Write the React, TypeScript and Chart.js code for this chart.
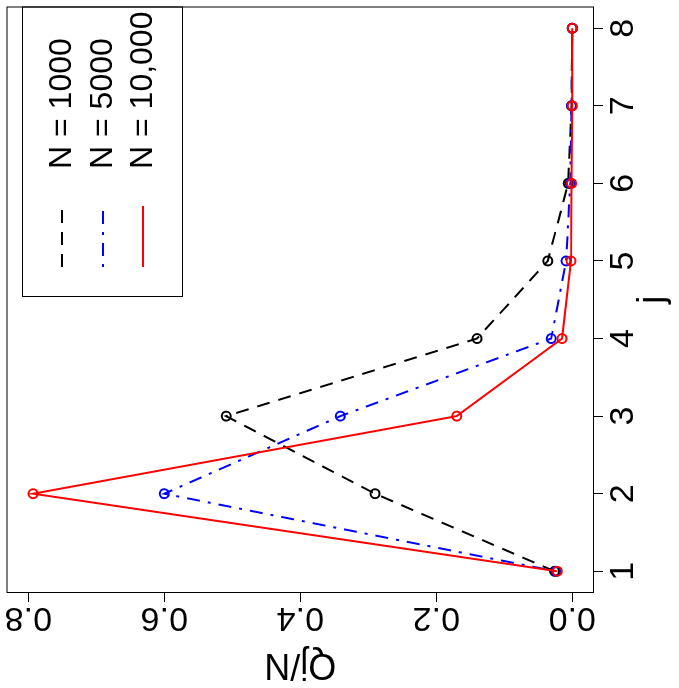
import React, { useEffect, useRef } from "react";
import { Chart, registerables } from "chart.js";

Chart.register(...registerables);

const jValues = [1, 2, 3, 4, 5, 6, 7, 8];
const seriesLabels = ["N = 1000", "N = 5000", "N = 10,000"];
const qN1000 = [0.026, 0.29, 0.509, 0.14, 0.036, 0.006, 0.001, 0.0];
const qN5000 = [0.024, 0.6, 0.341, 0.031, 0.009, 0.003, 0.001, 0.0];
const qN10000 = [0.022, 0.793, 0.17, 0.015, 0.002, 0.001, 0.0, 0.0];
const xTicks = [1, 2, 3, 4, 5, 6, 7, 8];
const yTicks = [0, 0.2, 0.4, 0.6, 0.8];

const FONT = "'Liberation Sans', Arial, Helvetica, sans-serif";
const W = 688;
const H = 679;

const customPlugin = {
  id: "rstyle",
  afterDraw(chart: any) {
    const ctx = chart.ctx;
    const { left, top, right, bottom } = chart.chartArea;
    ctx.save();
    // plot box
    ctx.strokeStyle = "#000";
    ctx.lineWidth = 1;
    ctx.setLineDash([]);
    ctx.strokeRect(left + 0.5, top + 0.5, right - left - 1, bottom - top - 1);

    // y tick labels (parallel to axis)
    const ys = chart.scales.y;
    ctx.fillStyle = "#000";
    ctx.font = `34px ${FONT}`;
    ctx.textAlign = "center";
    ctx.textBaseline = "middle";
    for (const v of yTicks) {
      const py = ys.getPixelForValue(v);
      ctx.save();
      ctx.translate(71, py);
      ctx.rotate(-Math.PI / 2);
      ctx.fillText(v.toFixed(1), 0, 0);
      ctx.restore();
    }

    // legend
    const lx0 = 391, ly0 = 22, lx1 = right, ly1 = 183;
    ctx.strokeRect(lx0 + 0.5, ly0 + 0.5, lx1 - lx0 - 1, ly1 - ly0 - 1);
    const rows = [62, 103, 143];
    chart.data.datasets.forEach((ds: any, i: number) => {
      const ry = rows[i];
      ctx.save();
      ctx.strokeStyle = ds.borderColor;
      ctx.lineWidth = ds.borderWidth;
      ctx.setLineDash(ds.borderDash || []);
      ctx.beginPath();
      ctx.moveTo(421, ry);
      ctx.lineTo(482, ry);
      ctx.stroke();
      ctx.restore();
      ctx.fillStyle = "#000";
      ctx.font = `32px ${FONT}`;
      ctx.textAlign = "left";
      ctx.textBaseline = "middle";
      ctx.fillText(ds.label, 519, ry);
    });
    ctx.restore();
  },
};

function makeData(arr: number[]) {
  return jValues.map((j, i) => ({ x: j, y: arr[i] }));
}

export default function App() {
  const ref = useRef<HTMLCanvasElement | null>(null);
  useEffect(() => {
    if (!ref.current) return;
    const common = {
      borderWidth: 2,
      pointRadius: 4.5,
      pointBorderWidth: 2,
      pointBackgroundColor: "rgba(0,0,0,0)",
      pointStyle: "circle",
      tension: 0,
      fill: false,
    };
    const chart = new Chart(ref.current, {
      type: "line",
      data: {
        datasets: [
          {
            label: seriesLabels[0],
            data: makeData(qN1000),
            borderColor: "#000000",
            pointBorderColor: "#000000",
            borderDash: [13, 9],
            order: 2,
            ...common,
          },
          {
            label: seriesLabels[1],
            data: makeData(qN5000),
            borderColor: "#0000ff",
            pointBorderColor: "#0000ff",
            borderDash: [3, 8, 13, 8],
            order: 1,
            ...common,
          },
          {
            label: seriesLabels[2],
            data: makeData(qN10000),
            borderColor: "#ff0000",
            pointBorderColor: "#ff0000",
            borderDash: [],
            order: 0,
            ...common,
          },
        ],
      },
      options: {
        responsive: false,
        animation: false,
        devicePixelRatio: 1,
        layout: { padding: { left: 0, right: 0, top: 1, bottom: 0 } },
        plugins: { legend: { display: false }, tooltip: { enabled: false } },
        scales: {
          x: {
            type: "linear",
            position: "bottom",
            min: 0.72,
            max: 8.28,
            afterBuildTicks: (s: any) => {
              s.ticks = xTicks.map((v) => ({ value: v }));
            },
            afterFit: (s: any) => {
              s.height = H - 594;
            },
            ticks: {
              color: "#000",
              font: { family: FONT, size: 34 },
              padding: 0,
              maxRotation: 0,
              minRotation: 0,
              autoSkip: false,
              callback: (v: any) => String(v),
            },
            grid: {
              display: true,
              drawOnChartArea: false,
              drawTicks: true,
              tickLength: 9,
              color: "#000",
              lineWidth: 1,
            },
            border: { display: false },
            title: {
              display: true,
              text: "j",
              color: "#000",
              font: { family: FONT, size: 36 },
              padding: { top: 0, bottom: 4 },
            },
          },
          y: {
            type: "linear",
            position: "left",
            min: -0.032,
            max: 0.832,
            afterBuildTicks: (s: any) => {
              s.ticks = yTicks.map((v) => ({ value: v }));
            },
            afterFit: (s: any) => {
              s.width = 95;
            },
            ticks: { display: false },
            grid: {
              display: true,
              drawOnChartArea: false,
              drawTicks: true,
              tickLength: 9,
              color: "#000",
              lineWidth: 1,
            },
            border: { display: false },
            title: {
              display: true,
              text: "Qj/N",
              color: "#000",
              font: { family: FONT, size: 36 },
              padding: { top: 2, bottom: 0 },
            },
          },
        },
      },
      plugins: [customPlugin],
    } as any);
    return () => chart.destroy();
  }, []);

  return (
    <div
      style={{
        position: "absolute",
        left: 0,
        top: 0,
        width: H,
        height: W,
        overflow: "hidden",
        background: "#fff",
      }}
    >
      <div
        style={{
          position: "absolute",
          left: 0,
          top: 0,
          width: W,
          height: H,
          transformOrigin: "0 0",
          transform: `translateY(${W}px) rotate(-90deg)`,
        }}
      >
        <canvas ref={ref} width={W} height={H} style={{ width: W, height: H, display: "block" }} />
      </div>
    </div>
  );
}
